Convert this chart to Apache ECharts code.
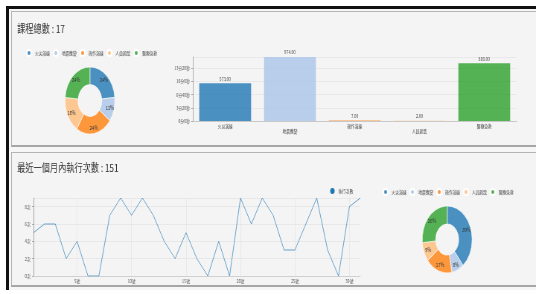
<!DOCTYPE html>
<html>
<head>
<meta charset="utf-8">
<title>課程統計</title>
<script src="https://cdn.jsdelivr.net/npm/echarts@6/dist/echarts.min.js"></script>
<style>
    body { margin: 0; width: 536px; height: 294px; overflow: hidden; background: #fff; position: relative; }
    #frame {
        position: absolute; left: 6px; top: 6px; width: 530px; height: 284px;
        border-left: 3px solid #111; border-top: 3px solid #111;
        background: #f6f6f6; box-sizing: border-box;
    }
    .panel {
        position: absolute; left: 11px; width: 540px;
        border: 1px solid #b4b4b4; border-bottom: 2px solid #a6a6a6;
        background: #f4f4f4; box-sizing: border-box;
    }
    /* 原圖被橫向壓縮過，用 scaleX 還原同樣的比例 */
    #chart {
        position: absolute; left: 0; top: 0; width: 720px; height: 294px;
        transform: scaleX(0.7444); transform-origin: 0 0;
    }
</style>
</head>
<body>
<div id="frame"></div>
<div class="panel" style="top:11px;height:136px"></div>
<div class="panel" style="top:152px;height:135px"></div>
<div id="chart"></div>

<script>
    // 課程類別
    var categories = ['火災演練', '地震應變', '操作演練', '人員疏散', '醫療急救'];
    // 各類課程數
    var courseCounts = [4, 2, 4, 3, 4];
    // 各類課程時數(秒)
    var courseSeconds = [573, 974, 7, 2, 880];
    // 最近一個月 每日執行次數
    var days = ['1號', '2號', '3號', '4號', '5號', '6號', '7號', '8號', '9號', '10號',
        '11號', '12號', '13號', '14號', '15號', '16號', '17號', '18號', '19號', '20號',
        '21號', '22號', '23號', '24號', '25號', '26號', '27號', '28號', '29號', '30號', '31號'];
    var dailyRuns = [5, 6, 6, 2, 4, 0, 0, 7, 9, 7, 9, 7, 4, 2, 5, 2, 0, 4, 0, 9, 6, 9, 7, 3, 3, 6, 9, 3, 0, 8, 9];
    // 最近一個月 各類執行次數
    var monthRuns = [59, 12, 26, 14, 40];

    var colors = ['rgba(31,119,180,0.8)', 'rgba(174,199,232,0.85)', 'rgba(255,127,14,0.8)',
        'rgba(255,187,120,0.8)', 'rgba(44,160,44,0.8)'];
    var font = '"Noto Sans CJK TC", "Noto Sans", sans-serif';

    var totalCourses = courseCounts.reduce(function (a, b) { return a + b; }, 0);
    var totalRuns = dailyRuns.reduce(function (a, b) { return a + b; }, 0);

    function pieData(values) {
        return categories.map(function (name, i) {
            return { name: name, value: values[i] };
        });
    }
    function everyFifth(i) {
        return (i + 1) % 5 === 0;
    }

    var chart = echarts.init(document.getElementById('chart'));
    chart.setOption({
        color: colors,
        textStyle: { fontFamily: font },
        animation: false,
        title: [
            { text: '課程總數 : ' + totalCourses, left: 23, top: 23, padding: 0,
              textStyle: { fontSize: 11, fontWeight: 'normal', color: '#333', fontFamily: font } },
            { text: '最近一個月內執行次數 : ' + totalRuns, left: 23, top: 162, padding: 0,
              textStyle: { fontSize: 11, fontWeight: 'normal', color: '#333', fontFamily: font } }
        ],
        legend: [
            { data: categories, left: 35, top: 49, icon: 'circle', itemWidth: 6, itemHeight: 6, itemGap: 4,
              padding: 0, textStyle: { fontSize: 5, color: '#444' } },
            { data: categories, left: 514, top: 188, icon: 'circle', itemWidth: 6, itemHeight: 6, itemGap: 4,
              padding: 0, textStyle: { fontSize: 5, color: '#444' } },
            { data: ['執行次數'], left: 443.5, top: 188, icon: 'circle', itemWidth: 6, itemHeight: 6,
              padding: 0, textStyle: { fontSize: 5, color: '#444' } }
        ],
        grid: [
            { left: 259, right: 26, top: 57, bottom: 173 },
            { left: 45, right: 236, top: 198, bottom: 18 }
        ],
        xAxis: [
            {
                type: 'category', gridIndex: 0, data: categories,
                axisLine: { lineStyle: { color: '#c8c8c8' } },
                axisTick: { show: false },
                axisLabel: {
                    interval: 0, fontSize: 5, margin: 2, lineHeight: 5.5, color: '#444',
                    formatter: function (v, i) { return i % 2 ? '\n' + v : v; }
                }
            },
            {
                type: 'category', gridIndex: 1, data: days, boundaryGap: false,
                axisLine: { lineStyle: { color: '#d0d0d0' } },
                axisTick: { show: false },
                axisLabel: { interval: everyFifth, fontSize: 5, margin: 3, color: '#555' },
                splitLine: { show: true, interval: everyFifth, lineStyle: { color: '#e6e6e6', width: 0.8 } }
            }
        ],
        yAxis: [
            {
                type: 'value', gridIndex: 0, min: 0, max: 'dataMax', interval: 200,
                axisLine: { show: true, lineStyle: { color: '#aaa' } },
                axisTick: { show: true, length: 2 },
                axisLabel: {
                    fontSize: 5, margin: 4, color: '#555', showMaxLabel: false,
                    formatter: function (s) { return Math.floor(s / 60) + '分' + (s % 60) + '秒'; }
                },
                splitLine: { lineStyle: { color: '#e4e4e4', width: 0.8 } }
            },
            {
                type: 'value', gridIndex: 1, min: 0, max: 'dataMax', interval: 2,
                axisLine: { show: true, lineStyle: { color: '#aaa' } },
                axisTick: { show: true, length: 2 },
                axisLabel: { fontSize: 5, margin: 4, color: '#555', showMaxLabel: false, formatter: '{value}次' },
                splitLine: { lineStyle: { color: '#e4e4e4', width: 0.8 } }
            }
        ],
        series: [
            {
                type: 'pie', name: '課程數', center: [120.8, 100.5], radius: [16, 33.5],
                data: pieData(courseCounts),
                itemStyle: { borderColor: '#fff', borderWidth: 0.6 },
                label: {
                    position: 'inside', fontSize: 5.5, color: '#333',
                    formatter: function (p) { return Math.round(p.percent) + '%'; }
                },
                labelLine: { show: false }
            },
            {
                type: 'bar', name: '課程時數', xAxisIndex: 0, yAxisIndex: 0,
                data: courseSeconds, colorBy: 'data', barCategoryGap: '20%',
                label: {
                    show: true, position: 'top', distance: 2, fontSize: 5, color: '#444',
                    formatter: function (p) { return p.value.toFixed(2); }
                }
            },
            {
                type: 'line', name: '執行次數', xAxisIndex: 1, yAxisIndex: 1,
                data: dailyRuns, showSymbol: false, color: '#1f77b4',
                lineStyle: { width: 1, color: 'rgba(31,119,180,0.65)' }
            },
            {
                type: 'pie', name: '執行次數分類', center: [600.7, 239.5], radius: [15.5, 33.5],
                data: pieData(monthRuns),
                itemStyle: { borderColor: '#fff', borderWidth: 0.6 },
                label: {
                    position: 'inside', fontSize: 5.5, color: '#333',
                    formatter: function (p) { return Math.round(p.percent) + '%'; }
                },
                labelLine: { show: false }
            }
        ]
    });
</script>
</body>
</html>
